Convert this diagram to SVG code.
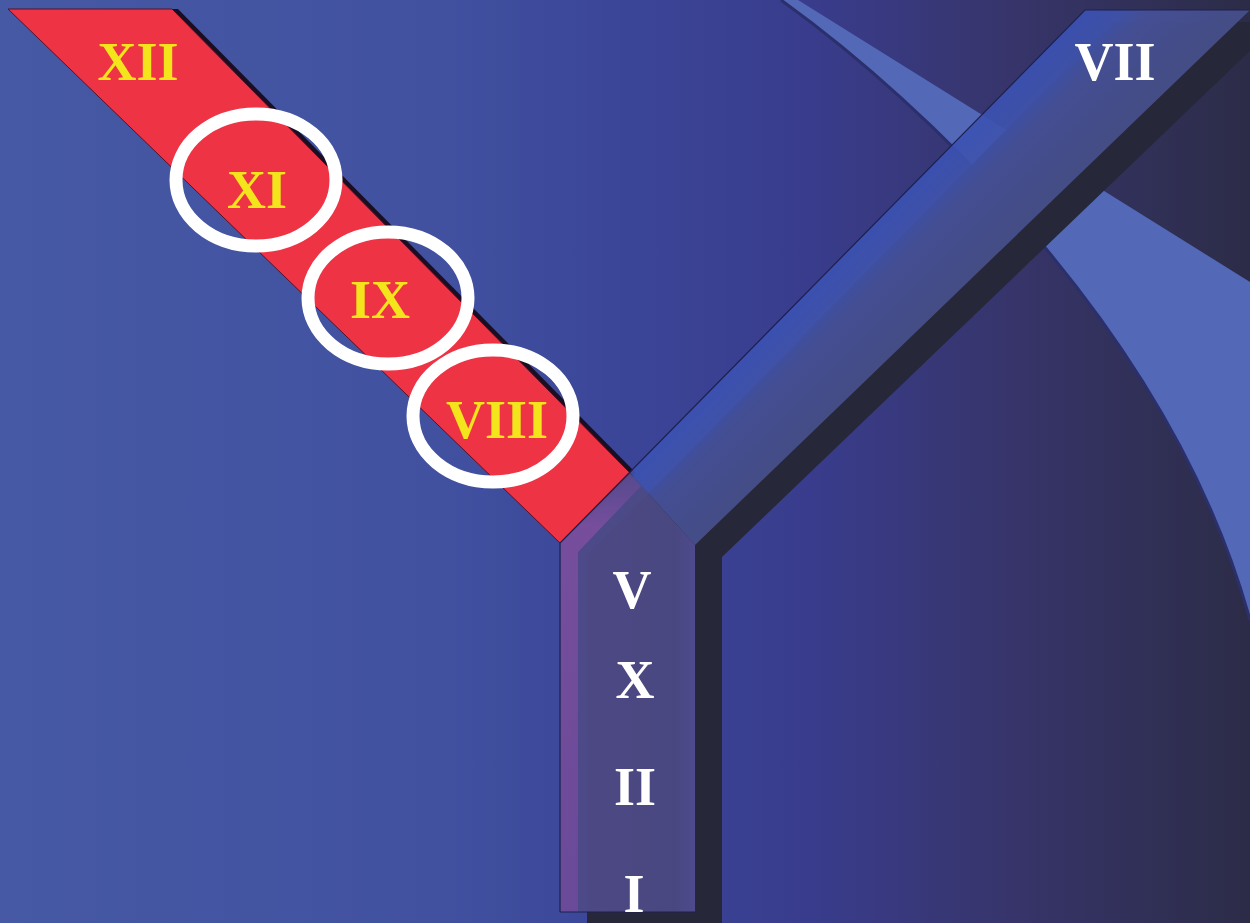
<svg xmlns="http://www.w3.org/2000/svg" width="1250" height="923" viewBox="0 0 1250 923">
  <defs>
    <linearGradient id="bg" x1="0" y1="0" x2="1250" y2="0" gradientUnits="userSpaceOnUse">
      <stop offset="0" stop-color="#4659a4"/>
      <stop offset="0.35" stop-color="#4151a0"/>
      <stop offset="0.5" stop-color="#3b4598"/>
      <stop offset="0.65" stop-color="#393c8c"/>
      <stop offset="0.82" stop-color="#363468"/>
      <stop offset="1" stop-color="#2c2c48"/>
    </linearGradient>
    <linearGradient id="stemFill" x1="560" y1="0" x2="695" y2="0" gradientUnits="userSpaceOnUse">
      <stop offset="0" stop-color="#5a4c92"/>
      <stop offset="0.15" stop-color="#4e4a88"/>
      <stop offset="0.85" stop-color="#4b4984"/>
      <stop offset="1" stop-color="#504c92"/>
    </linearGradient>
    <linearGradient id="armFill" x1="630" y1="473" x2="700" y2="543" gradientUnits="userSpaceOnUse">
      <stop offset="0" stop-color="#3b52b2"/>
      <stop offset="0.22" stop-color="#3f53ac"/>
      <stop offset="0.4" stop-color="#46519a"/>
      <stop offset="1" stop-color="#47508c"/>
    </linearGradient>
    <linearGradient id="edgeStripe" x1="0" y1="473" x2="0" y2="912" gradientUnits="userSpaceOnUse">
      <stop offset="0" stop-color="#6e4c9c" stop-opacity="0.35"/>
      <stop offset="0.12" stop-color="#7a4e9e" stop-opacity="0.9"/>
      <stop offset="1" stop-color="#6c4a9a" stop-opacity="0.9"/>
    </linearGradient>
    <style>
      .roman { font-family: "Liberation Serif", "Times New Roman", serif; font-weight: bold; font-size: 54px; text-anchor: middle; }
      .gold { fill: #f4e41c; }
      .white { fill: #ffffff; }
      .ring { fill: none; stroke: #ffffff; stroke-width: 13; }
      .edge { fill: none; stroke: #1e2050; stroke-width: 1.2; }
    </style>
  </defs>

  <!-- backdrop -->
  <rect id="backdrop" x="0" y="0" width="1250" height="923" fill="url(#bg)"/>

  <!-- light sweeping arc -->
  <g id="arc">
    <path d="M781,0 L798,0 L1250,282 L1250,620 C1170,330 920,100 781,0 Z" fill="#5369b8"/>
    <path d="M781,0 C920,100 1170,330 1250,620" fill="none" stroke="#2b306c" stroke-width="3"/>
  </g>

  <!-- red diagonal band -->
  <g id="red-band">
    <polygon points="14,9 178,9 636,473 566,543" fill="#1a0f22"/>
    <polygon points="8,9 172,9 630,473 560,543" fill="#ee3344" stroke="#5a1028" stroke-width="1"/>
  </g>

  <!-- Y-shaped band with drop shadow -->
  <g id="y-band">
    <polygon points="587,924 587,555 657,485 1112,22 1280,22 722,557 722,924" fill="#27273a"/>
    <polygon id="arm" points="630,473 1085,10 1250,10 695,545" fill="url(#armFill)" fill-opacity="0.92"/>
    <polygon id="stem" points="560,912 560,543 630,473 695,545 695,912" fill="url(#stemFill)" fill-opacity="0.95"/>
    <polygon points="561,912 561,543 630,474 641,486 578,552 578,912" fill="url(#edgeStripe)"/>
    <path class="edge" d="M560,912 L560,543 L1085,10 L1250,10"/>
    <path class="edge" d="M560,912 L695,912"/>
  </g>

  <!-- labels on the red band -->
  <g id="node-xii">
    <text class="roman gold" x="138" y="80">XII</text>
  </g>
  <g id="node-xi">
    <ellipse class="ring" cx="256" cy="180" rx="80" ry="66"/>
    <text class="roman gold" x="257" y="208">XI</text>
  </g>
  <g id="node-ix">
    <ellipse class="ring" cx="388" cy="298" rx="80" ry="66"/>
    <text class="roman gold" x="380" y="318">IX</text>
  </g>
  <g id="node-viii">
    <ellipse class="ring" cx="493" cy="416" rx="80" ry="66"/>
    <text class="roman gold" x="497" y="438">VIII</text>
  </g>

  <!-- labels on the Y band -->
  <g id="node-vii">
    <text class="roman white" x="1115" y="80">VII</text>
  </g>
  <g id="node-v">
    <text class="roman white" x="632" y="608">V</text>
  </g>
  <g id="node-x">
    <text class="roman white" x="635" y="698">X</text>
  </g>
  <g id="node-ii">
    <text class="roman white" x="635" y="805">II</text>
  </g>
  <g id="node-i">
    <text class="roman white" x="634" y="912">I</text>
  </g>

  <g id="connectors"/>
</svg>
